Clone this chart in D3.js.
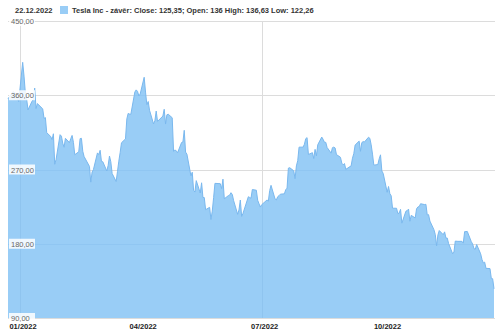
<!DOCTYPE html>
<html>
<head>
<meta charset="utf-8">
<script src="https://cdn.jsdelivr.net/npm/d3@7"></script>
<style>
  body { margin: 0; background: #fff; }
  svg { display: block; font-family: "Liberation Sans", Arial, sans-serif; }
</style>
</head>
<body>
<script>
let width = 500;
let height = 332;

// trading days, Dec 2021 - Dec 2022
let dates = [
  "2021-12-23","2021-12-27","2021-12-28","2021-12-29","2021-12-30","2021-12-31",
  "2022-01-03","2022-01-04","2022-01-05","2022-01-06","2022-01-07","2022-01-10","2022-01-11","2022-01-12","2022-01-13","2022-01-14","2022-01-18","2022-01-19","2022-01-20","2022-01-21","2022-01-24","2022-01-25","2022-01-26","2022-01-27","2022-01-28","2022-01-31",
  "2022-02-01","2022-02-02","2022-02-03","2022-02-04","2022-02-07","2022-02-08","2022-02-09","2022-02-10","2022-02-11","2022-02-14","2022-02-15","2022-02-16","2022-02-17","2022-02-18","2022-02-22","2022-02-23","2022-02-24","2022-02-25","2022-02-28",
  "2022-03-01","2022-03-02","2022-03-03","2022-03-04","2022-03-07","2022-03-08","2022-03-09","2022-03-10","2022-03-11","2022-03-14","2022-03-15","2022-03-16","2022-03-17","2022-03-18","2022-03-21","2022-03-22","2022-03-23","2022-03-24","2022-03-25","2022-03-28","2022-03-29","2022-03-30","2022-03-31",
  "2022-04-01","2022-04-04","2022-04-05","2022-04-06","2022-04-07","2022-04-08","2022-04-11","2022-04-12","2022-04-13","2022-04-14","2022-04-18","2022-04-19","2022-04-20","2022-04-21","2022-04-22","2022-04-25","2022-04-26","2022-04-27","2022-04-28","2022-04-29",
  "2022-05-02","2022-05-03","2022-05-04","2022-05-05","2022-05-06","2022-05-09","2022-05-10","2022-05-11","2022-05-12","2022-05-13","2022-05-16","2022-05-17","2022-05-18","2022-05-19","2022-05-20","2022-05-23","2022-05-24","2022-05-25","2022-05-26","2022-05-27","2022-05-31",
  "2022-06-01","2022-06-02","2022-06-03","2022-06-06","2022-06-07","2022-06-08","2022-06-09","2022-06-10","2022-06-13","2022-06-14","2022-06-15","2022-06-16","2022-06-17","2022-06-21","2022-06-22","2022-06-23","2022-06-24","2022-06-27","2022-06-28","2022-06-29","2022-06-30",
  "2022-07-01","2022-07-05","2022-07-06","2022-07-07","2022-07-08","2022-07-11","2022-07-12","2022-07-13","2022-07-14","2022-07-15","2022-07-18","2022-07-19","2022-07-20","2022-07-21","2022-07-22","2022-07-25","2022-07-26","2022-07-27","2022-07-28","2022-07-29",
  "2022-08-01","2022-08-02","2022-08-03","2022-08-04","2022-08-05","2022-08-08","2022-08-09","2022-08-10","2022-08-11","2022-08-12","2022-08-15","2022-08-16","2022-08-17","2022-08-18","2022-08-19","2022-08-22","2022-08-23","2022-08-24","2022-08-25","2022-08-26","2022-08-29","2022-08-30","2022-08-31",
  "2022-09-01","2022-09-02","2022-09-06","2022-09-07","2022-09-08","2022-09-09","2022-09-12","2022-09-13","2022-09-14","2022-09-15","2022-09-16","2022-09-19","2022-09-20","2022-09-21","2022-09-22","2022-09-23","2022-09-26","2022-09-27","2022-09-28","2022-09-29","2022-09-30",
  "2022-10-03","2022-10-04","2022-10-05","2022-10-06","2022-10-07","2022-10-10","2022-10-11","2022-10-12","2022-10-13","2022-10-14","2022-10-17","2022-10-18","2022-10-19","2022-10-20","2022-10-21","2022-10-24","2022-10-25","2022-10-26","2022-10-27","2022-10-28","2022-10-31",
  "2022-11-01","2022-11-02","2022-11-03","2022-11-04","2022-11-07","2022-11-08","2022-11-09","2022-11-10","2022-11-11","2022-11-14","2022-11-15","2022-11-16","2022-11-17","2022-11-18","2022-11-21","2022-11-22","2022-11-23","2022-11-25","2022-11-28","2022-11-29","2022-11-30",
  "2022-12-01","2022-12-02","2022-12-05","2022-12-06","2022-12-07","2022-12-08","2022-12-09","2022-12-12","2022-12-13","2022-12-14","2022-12-15","2022-12-16","2022-12-19","2022-12-20","2022-12-21","2022-12-22"
];

let closes = [
  355.7, 364.6, 362.8, 362.1, 356.8, 352.3,
  399.9, 383.2, 362.7, 354.9, 342.3, 352.7, 354.8, 368.7, 343.9, 349.9, 343.5, 331.9, 332.9, 314.6, 310.0, 306.1, 313.3, 276.4, 282.1, 312.2,
  310.4, 301.9, 297.0, 307.8, 302.6, 307.3, 311.3, 302.9, 287.9, 291.5, 307.5, 307.8, 292.1, 285.7, 273.8, 254.7, 266.9, 270.0, 290.1,
  288.1, 293.3, 279.8, 279.4, 268.2, 274.8, 286.3, 279.4, 265.1, 255.5, 267.4, 280.1, 290.5, 302.4, 307.1, 331.3, 338.0, 337.2, 336.9, 363.9, 366.5, 364.7, 359.2,
  361.5, 381.8, 363.8, 348.6, 352.4, 341.8, 325.3, 329.0, 340.8, 328.3, 334.8, 343.0, 325.1, 336.3, 337.0, 332.7, 292.1, 293.6, 292.8, 290.3,
  302.7, 303.3, 317.5, 291.1, 288.6, 262.4, 266.7, 244.7, 242.7, 256.5, 241.5, 253.9, 236.1, 236.0, 221.3, 224.1, 209.4, 219.6, 235.9, 253.2, 252.8,
  246.8, 258.3, 234.5, 238.3, 238.9, 241.9, 239.7, 232.2, 215.7, 220.9, 233.0, 213.1, 216.8, 237.0, 236.1, 235.1, 245.7, 244.9, 232.7, 228.5, 224.5,
  227.3, 233.1, 231.7, 244.5, 250.8, 234.3, 233.1, 237.0, 238.3, 240.1, 240.5, 245.5, 247.4, 271.7, 272.2, 268.4, 258.9, 274.4, 280.7, 297.1,
  297.1, 300.6, 307.4, 308.6, 288.2, 290.4, 283.3, 294.4, 286.6, 300.0, 309.3, 306.6, 303.0, 302.9, 296.7, 289.9, 296.5, 297.1, 296.1, 288.1, 284.8, 277.7, 275.6,
  277.2, 270.2, 274.4, 283.7, 289.3, 299.7, 304.4, 292.1, 302.6, 303.8, 303.4, 309.1, 307.8, 300.0, 288.6, 275.3, 276.0, 282.9, 287.8, 268.2, 265.3,
  242.4, 249.4, 240.8, 238.1, 223.1, 223.0, 216.5, 217.2, 221.7, 205.0, 219.4, 220.2, 222.0, 207.3, 214.4, 211.3, 222.4, 224.6, 225.1, 228.5, 227.5,
  227.8, 215.0, 215.3, 207.5, 197.1, 191.3, 177.6, 190.7, 196.0, 191.0, 194.4, 186.9, 186.9, 180.2, 167.9, 169.9, 183.2, 182.9, 182.9, 180.8, 194.7,
  194.7, 194.9, 182.5, 179.8, 174.0, 173.4, 179.1, 167.8, 161.0, 156.8, 157.7, 150.2, 149.9, 137.8, 137.6, 125.35
];

let yTicks = [90, 180, 270, 360, 450];
let xTicks = ["2022-01-01", "2022-04-01", "2022-07-01", "2022-10-01"];
let xGridTicks = ["2022-01-01", "2022-07-01"];
let headerDate = "22.12.2022";
let legendText = "Tesla Inc - závěr: Close: 125,35; Open: 136 High: 136,63 Low: 122,26";

let parse = d3.timeParse("%Y-%m-%d");
let data = dates.map((d, i) => ({date: parse(d), close: closes[i]}));

let plotLeft = 8, plotRight = 494, plotTop = 21, plotBottom = 318;

let x = d3.scaleTime().domain(d3.extent(data, d => d.date)).range([plotLeft, plotRight]);
let y = d3.scaleLinear().domain([90, 450]).range([plotBottom, plotTop]);

let svg = d3.select("body").append("svg")
  .attr("width", width)
  .attr("height", height);

let area = d3.area().x(d => x(d.date)).y0(plotBottom).y1(d => y(d.close));
let line = d3.line().x(d => x(d.date)).y(d => y(d.close));

svg.append("clipPath").attr("id", "fillClip")
  .append("path").datum(data).attr("d", area);

// horizontal grid
let gridY = d => Math.round(y(d)) + 0.5;
svg.append("g").selectAll("line").data(yTicks).enter().append("line")
  .attr("x1", plotLeft).attr("x2", plotRight + 1)
  .attr("y1", gridY).attr("y2", gridY)
  .attr("stroke", "#dcdcdc").attr("stroke-width", 1);

// vertical grid
let gridX = d => Math.round(x(parse(d))) + 0.5;
svg.append("g").selectAll("line").data(xGridTicks).enter().append("line")
  .attr("x1", gridX).attr("x2", gridX)
  .attr("y1", plotTop).attr("y2", plotBottom)
  .attr("stroke", "#dcdcdc").attr("stroke-width", 1);

svg.append("path").datum(data)
  .attr("d", area)
  .attr("fill", "#99cdf6");

// faint grid showing through the fill
let under = svg.append("g").attr("clip-path", "url(#fillClip)");
under.selectAll(".vg").data(xGridTicks).enter().append("line")
  .attr("x1", gridX).attr("x2", gridX)
  .attr("y1", plotTop).attr("y2", plotBottom)
  .attr("stroke", "#7fb6e6").attr("stroke-width", 1).attr("opacity", 0.4);
under.selectAll(".hg").data(yTicks).enter().append("line")
  .attr("x1", plotLeft).attr("x2", plotRight)
  .attr("y1", gridY).attr("y2", gridY)
  .attr("stroke", "#7fb6e6").attr("stroke-width", 1).attr("opacity", 0.3);

svg.append("path").datum(data)
  .attr("d", line)
  .attr("fill", "none")
  .attr("stroke", "#7ab8ee")
  .attr("stroke-width", 1);

// y labels
let fmt = v => d3.format(".2f")(v).replace(".", ",");
let yLab = svg.append("g").selectAll("g").data(yTicks).enter().append("g")
  .attr("transform", d => `translate(9,${y(d)})`);
yLab.append("rect")
  .attr("x", 0).attr("y", -5).attr("width", 26).attr("height", 10)
  .attr("fill", "#fff").attr("opacity", 0.85);
yLab.append("text")
  .attr("x", 2).attr("y", 3)
  .attr("font-size", 7.5).attr("fill", "#666")
  .text(fmt);

// x labels
svg.append("g").selectAll("text").data(xTicks).enter().append("text")
  .attr("x", d => x(parse(d)) + 3)
  .attr("y", 329)
  .attr("text-anchor", "middle")
  .attr("font-size", 7.5).attr("font-weight", "bold").attr("fill", "#222")
  .text(d => d3.timeFormat("%m/%Y")(parse(d)));

// header
svg.append("text")
  .attr("x", 15).attr("y", 13)
  .attr("font-size", 7.5).attr("font-weight", "bold").attr("fill", "#333")
  .text(headerDate);
svg.append("rect")
  .attr("x", 60).attr("y", 6).attr("width", 8).attr("height", 8)
  .attr("fill", "#99cdf6");
svg.append("text")
  .attr("x", 72).attr("y", 13)
  .attr("font-size", 7.5).attr("font-weight", "bold").attr("fill", "#333")
  .text(legendText);
</script>
</body>
</html>
